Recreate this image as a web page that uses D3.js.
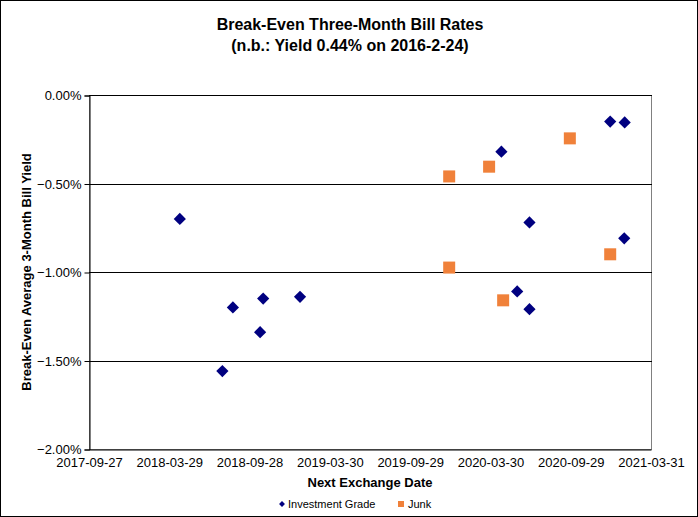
<!DOCTYPE html>
<html>
<head>
<meta charset="utf-8">
<script src="https://cdn.jsdelivr.net/npm/d3@7"></script>
<style>
	body { margin: 0; background: #fff; }
	svg { font-family: 'Liberation Sans', Arial, sans-serif; display: block; }
</style>
</head>
<body>
<svg id="canvas"></svg>
<script>
// tick labels on the date axis
const xTickLabels = ['2017-09-27', '2018-03-29', '2018-09-28', '2019-03-30', '2019-09-29', '2020-03-30', '2020-09-29', '2021-03-31'];
const yTickValues = [0, -0.5, -1, -1.5, -2];

// investment grade points
const igDates = ['2018-04-22', '2018-07-28', '2018-08-21', '2018-10-22', '2018-10-29', '2019-01-21', '2020-04-24', '2020-05-30', '2020-06-27', '2020-06-27', '2020-12-28', '2021-01-29', '2021-01-30'];
const igYields = [-0.70, -1.56, -1.20, -1.34, -1.15, -1.14, -0.32, -1.11, -0.72, -1.21, -0.15, -0.81, -0.155];

// junk points
const junkDates = ['2019-12-27', '2019-12-27', '2020-03-27', '2020-04-28', '2020-09-27', '2020-12-28'];
const junkYields = [-0.46, -0.975, -0.405, -1.16, -0.245, -0.90];

const w = 698;
const h = 517;
const plot = { left: 89, right: 651, top: 95, bottom: 449 };

const parse = d3.timeParse('%Y-%m-%d');

const svg = d3.select('#canvas').attr('width', w).attr('height', h);

// outer frame
svg.append('rect').attr('x', 0.5).attr('y', 0.5).attr('width', w - 1).attr('height', h - 1)
	.attr('fill', '#fff').attr('stroke', '#000');

const xScale = d3
	.scaleTime()
	.domain([ parse(xTickLabels[0]), parse(xTickLabels[xTickLabels.length - 1]) ])
	.range([ plot.left, plot.right ]);

const yScale = d3.scaleLinear().domain([ -2, 0 ]).range([ plot.bottom, plot.top ]);

// plot area border (grey)
svg.append('rect')
	.attr('x', plot.left + 0.5).attr('y', plot.top + 0.5)
	.attr('width', plot.right - plot.left).attr('height', plot.bottom - plot.top)
	.attr('fill', 'none').attr('stroke', '#808080');

// gridlines
svg.selectAll('.grid')
	.data(yTickValues.filter((d) => d !== -2))
	.enter()
	.append('line')
	.attr('class', 'grid')
	.attr('x1', plot.left).attr('x2', plot.right + 1)
	.attr('y1', (d) => Math.round(yScale(d)) + 0.5)
	.attr('y2', (d) => Math.round(yScale(d)) + 0.5)
	.attr('stroke', '#000');

// axes
const yAxis = d3.axisLeft(yScale).tickValues(yTickValues).tickSize(5).tickPadding(3)
	.tickFormat((d) => d3.format('.2f')(d) + '%');
const xAxis = d3.axisBottom(xScale).tickValues(xTickLabels.map(parse)).tickSize(0).tickPadding(8)
	.tickFormat(d3.timeFormat('%Y-%m-%d'));

const gy = svg.append('g').attr('id', 'y-axis').attr('transform', 'translate(' + (plot.left + 0.5) + ',0.5)').call(yAxis);
const gx = svg.append('g').attr('id', 'x-axis').attr('transform', 'translate(0,' + (plot.bottom + 0.5) + ')').call(xAxis);

[gy, gx].forEach((g) => {
	g.select('.domain').attr('stroke', '#000');
	g.selectAll('.tick line').attr('stroke', '#000');
	g.selectAll('text').attr('font-size', 13).attr('font-family', "'Liberation Sans', Arial, sans-serif").attr('fill', '#000');
});

// junk squares
svg.selectAll('.junk')
	.data(junkDates.map((d, i) => ({ date: parse(d), y: junkYields[i] })))
	.enter()
	.append('rect')
	.attr('class', 'junk')
	.attr('x', (d) => xScale(d.date) - 6)
	.attr('y', (d) => yScale(d.y) - 6)
	.attr('width', 12)
	.attr('height', 12)
	.attr('fill', '#F0813A');

// investment grade diamonds
const diamond = d3.symbol().type(d3.symbolDiamond2).size(95);
svg.selectAll('.ig')
	.data(igDates.map((d, i) => ({ date: parse(d), y: igYields[i] })))
	.enter()
	.append('path')
	.attr('class', 'ig')
	.attr('d', diamond)
	.attr('transform', (d) => 'translate(' + xScale(d.date) + ',' + yScale(d.y) + ')')
	.attr('fill', '#000080');

// titles
const title = svg.append('text').attr('text-anchor', 'middle').attr('font-weight', 'bold').attr('font-size', 16);
title.append('tspan').attr('x', 350).attr('y', 30).text('Break-Even Three-Month Bill Rates');
title.append('tspan').attr('x', 350).attr('y', 51).text('(n.b.: Yield 0.44% on 2016-2-24)');

svg.append('text')
	.attr('x', 370).attr('y', 487)
	.attr('text-anchor', 'middle').attr('font-weight', 'bold').attr('font-size', 13)
	.text('Next Exchange Date');

svg.append('text')
	.attr('transform', 'translate(31,' + (plot.top + plot.bottom) / 2 + ') rotate(-90)')
	.attr('text-anchor', 'middle').attr('font-weight', 'bold').attr('font-size', 13)
	.text('Break-Even Average 3-Month  Bill Yield');

// legend
const legend = svg.append('g').attr('font-size', 11);
legend.append('path').attr('d', d3.symbol().type(d3.symbolDiamond2).size(22)).attr('transform', 'translate(282,504)').attr('fill', '#000080');
legend.append('text').attr('x', 288).attr('y', 508).text('Investment Grade');
legend.append('rect').attr('x', 398).attr('y', 501).attr('width', 6).attr('height', 6).attr('fill', '#F0813A');
legend.append('text').attr('x', 408).attr('y', 508).text('Junk');
</script>
</body>
</html>
